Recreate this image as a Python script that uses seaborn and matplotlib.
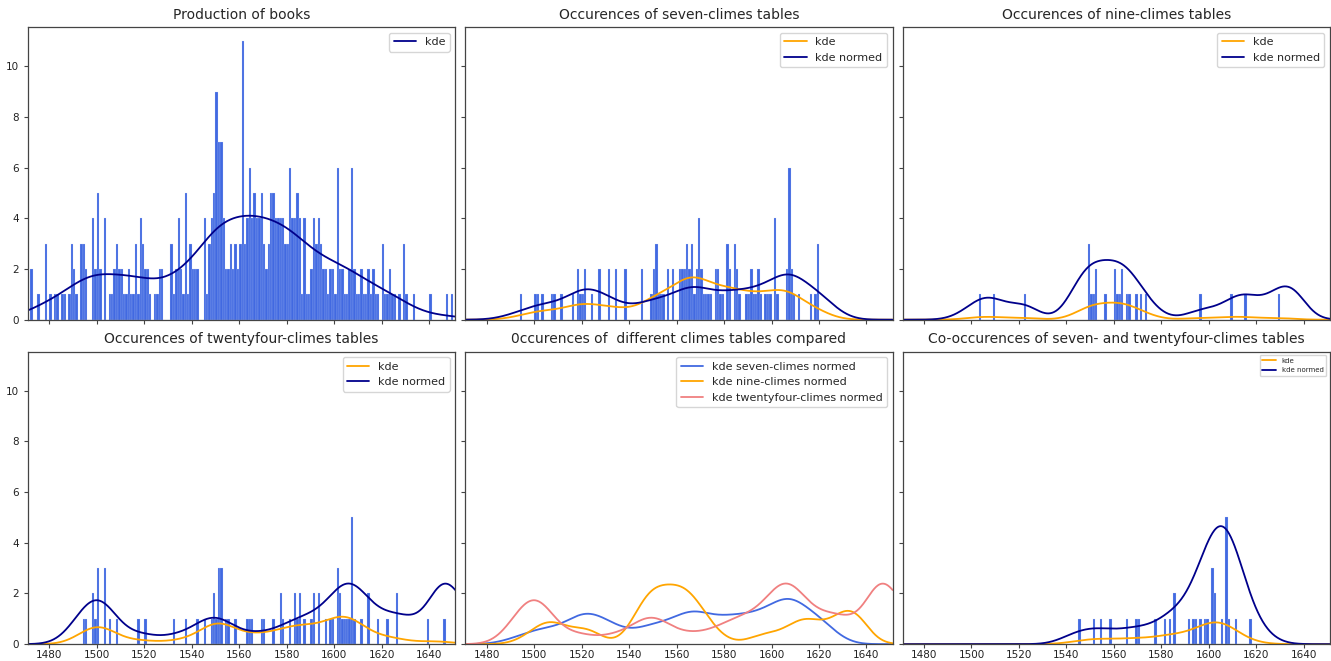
import numpy as np
import pandas as pd
import matplotlib
matplotlib.use("Agg")
import matplotlib.pyplot as plt
import seaborn as sns

# ---- data: printed books per year -------------------------------------------
book_years = [1472, 1475, 1478, 1480, 1482, 1483, 1485, 1486, 1488, 1489, 1490, 1491,
              1493, 1494, 1495, 1498, 1499, 1500, 1501, 1503, 1505, 1506, 1507, 1508,
              1509, 1510, 1511, 1512, 1513, 1514, 1515, 1516, 1517, 1518, 1519, 1520,
              1521, 1522, 1524, 1525, 1526, 1527, 1531, 1532, 1533, 1534, 1535, 1536,
              1537, 1538, 1539, 1540, 1541, 1542, 1545, 1546, 1547, 1548, 1549, 1550,
              1551, 1552, 1553, 1554, 1555, 1556, 1557, 1558, 1559, 1560, 1561, 1562,
              1563, 1564, 1565, 1566, 1567, 1568, 1569, 1570, 1571, 1572, 1573, 1574,
              1575, 1576, 1577, 1578, 1579, 1580, 1581, 1582, 1583, 1584, 1585, 1586,
              1587, 1588, 1589, 1590, 1591, 1592, 1593, 1594, 1595, 1596, 1597, 1598,
              1599, 1600, 1601, 1602, 1603, 1604, 1605, 1606, 1607, 1608, 1609, 1610,
              1611, 1612, 1613, 1614, 1615, 1616, 1617, 1618, 1620, 1621, 1622, 1623,
              1624, 1625, 1627, 1629, 1630, 1633, 1640, 1647, 1649]
book_counts = [2, 1, 3, 1, 1, 1, 1, 1, 1, 3, 2, 1,
               3, 3, 2, 4, 2, 5, 2, 4, 1, 1, 2, 3,
               2, 2, 1, 1, 2, 1, 1, 3, 1, 4, 3, 2,
               2, 1, 1, 1, 2, 2, 3, 1, 2, 4, 2, 1,
               5, 1, 3, 2, 2, 2, 4, 1, 3, 4, 5, 9,
               7, 7, 4, 2, 2, 3, 2, 3, 2, 3, 11, 3,
               4, 6, 4, 5, 4, 4, 5, 3, 2, 3, 5, 5,
               4, 4, 4, 4, 3, 3, 6, 4, 4, 5, 4, 1,
               4, 1, 1, 2, 4, 3, 4, 3, 2, 2, 1, 2,
               2, 1, 6, 2, 2, 1, 1, 2, 6, 2, 1, 1,
               2, 1, 1, 2, 1, 2, 1, 1, 3, 1, 1, 2,
               1, 1, 1, 3, 1, 1, 1, 1, 1]

# ---- occurrences of seven-climes tables --------------------------------------
seven_years = [1494, 1500, 1501, 1503, 1507, 1508, 1511, 1516, 1518, 1519, 1520, 1521,
               1524, 1527, 1531, 1534, 1538, 1545, 1549, 1550, 1551, 1552, 1553, 1554,
               1556, 1558, 1561, 1562, 1563, 1564, 1565, 1566, 1567, 1568, 1569, 1570,
               1571, 1572, 1573, 1574, 1576, 1577, 1578, 1579, 1581, 1582, 1584, 1585,
               1586, 1589, 1590, 1591, 1592, 1593, 1594, 1595, 1597, 1598, 1599, 1601,
               1602, 1606, 1607, 1608, 1609, 1611, 1616, 1618, 1619]
seven_counts = [1, 1, 1, 1, 1, 1, 1, 1, 2, 1, 1, 2,
                1, 2, 2, 2, 2, 2, 1, 2, 3, 1, 1, 1,
                2, 2, 2, 2, 2, 3, 2, 3, 1, 2, 4, 2,
                1, 1, 1, 1, 2, 2, 1, 1, 3, 2, 3, 2,
                1, 1, 1, 2, 1, 1, 2, 1, 1, 1, 1, 4,
                1, 2, 6, 2, 1, 1, 1, 1, 3]

# ---- occurrences of nine-climes tables ---------------------------------------
nine_years = [1503, 1509, 1522, 1549, 1550, 1551, 1552, 1556, 1560, 1561, 1562, 1563,
              1565, 1566, 1569, 1571, 1573, 1596, 1609, 1615, 1629]
nine_counts = [1, 1, 1, 3, 1, 1, 2, 1, 2, 1, 1, 2,
               1, 1, 1, 1, 1, 1, 1, 1, 1]

# ---- occurrences of twentyfour-climes tables ---------------------------------
twfour_years = [1494, 1495, 1498, 1499, 1500, 1503, 1505, 1508, 1517, 1520, 1532, 1537,
                1542, 1545, 1548, 1549, 1550, 1551, 1552, 1554, 1555, 1558, 1563, 1564,
                1565, 1569, 1570, 1574, 1577, 1578, 1581, 1583, 1584, 1585, 1587, 1590,
                1591, 1593, 1596, 1598, 1599, 1601, 1602, 1603, 1604, 1605, 1606, 1607,
                1608, 1611, 1614, 1618, 1622, 1626, 1639, 1646]
twfour_counts = [1, 1, 2, 1, 3, 3, 1, 1, 1, 1, 1, 1,
                 1, 1, 1, 2, 1, 3, 3, 1, 1, 1, 1, 1,
                 1, 1, 1, 1, 2, 1, 1, 2, 1, 2, 1, 1,
                 2, 2, 1, 1, 1, 3, 2, 1, 1, 1, 1, 5,
                 1, 1, 2, 1, 1, 2, 1, 1]

# ---- co-occurrences of seven- and twentyfour-climes tables -------------------
co_years = [1545, 1551, 1554, 1558, 1565, 1569, 1570, 1577, 1581, 1583, 1585, 1591,
            1593, 1594, 1596, 1598, 1599, 1601, 1602, 1605, 1607, 1608, 1611, 1617]
co_counts = [1, 1, 1, 1, 1, 1, 1, 1, 1, 1, 2, 1,
             1, 1, 1, 1, 1, 3, 2, 1, 5, 1, 1, 1]

X_MIN, X_MAX = 1471, 1651
grid = np.linspace(X_MIN, X_MAX, 700)
BOOK_BW = 8.5   # kernel width (years) for the book production
OCC_BW = 6.8    # kernel width (years) for table occurrences


def density(years, counts, bw):
    """Gaussian kernel density of the yearly events (integrates to 1)."""
    x = np.repeat(np.asarray(years, float), counts)
    z = (grid[:, None] - x[None, :]) / bw
    return np.exp(-0.5 * z ** 2).sum(axis=1) / (len(x) * bw * np.sqrt(2 * np.pi)), len(x)


book_dens, book_n = density(book_years, book_counts, BOOK_BW)


def curves(years, counts):
    """Return the count-scaled kde and the kde normed by book production."""
    dens, n = density(years, counts, OCC_BW)
    return dens * n, dens / book_dens


sns.set_style("ticks")
plt.rcParams.update({
    "font.family": ["DejaVu Sans"],
    "axes.edgecolor": "#444444",
    "axes.linewidth": 0.9,
    "xtick.color": "#444444",
    "ytick.color": "#444444",
    "xtick.labelcolor": "#222222",
    "ytick.labelcolor": "#222222",
    "xtick.labelsize": 7.5,
    "ytick.labelsize": 7.5,
    "xtick.major.size": 3,
    "ytick.major.size": 3,
    "xtick.major.pad": 1.5,
})

fig, axes = plt.subplots(2, 3, figsize=(13.31, 6.61), dpi=100, sharex=True, sharey=True)
fig.subplots_adjust(left=0.021, right=0.9992, top=0.959, bottom=0.0255,
                    wspace=0.0235, hspace=0.109)

BAR = "royalblue"
NAVY = "darkblue"
ORANGE = "orange"
CORAL = "lightcoral"
LW = 1.3


def bars(ax, years, counts):
    df = pd.DataFrame({"year": years, "n": counts})
    sns.histplot(data=df, x="year", weights="n", binwidth=1, binrange=(X_MIN, X_MAX),
                 color=BAR, alpha=1.0, edgecolor="#c8d4f7", linewidth=0.15, ax=ax)


# Production of books
ax = axes[0, 0]
bars(ax, book_years, book_counts)
sns.lineplot(x=grid, y=book_dens * book_n, color=NAVY, lw=LW, label="kde", ax=ax)
ax.set_title("Production of books", fontsize=10)

panels = [
    (axes[0, 1], seven_years, seven_counts, "Occurences of seven-climes tables"),
    (axes[0, 2], nine_years, nine_counts, "Occurences of nine-climes tables"),
    (axes[1, 0], twfour_years, twfour_counts, "Occurences of twentyfour-climes tables"),
    (axes[1, 2], co_years, co_counts, "Co-occurences of seven- and twentyfour-climes tables"),
]
normed = {}
for ax, yrs, cts, title in panels:
    bars(ax, yrs, cts)
    kde, kde_normed = curves(yrs, cts)
    normed[title] = kde_normed
    sns.lineplot(x=grid, y=kde, color=ORANGE, lw=LW, label="kde", ax=ax)
    sns.lineplot(x=grid, y=kde_normed, color=NAVY, lw=LW, label="kde normed", ax=ax)
    ax.set_title(title, fontsize=10)

# Comparison of the normed curves
ax = axes[1, 1]
sns.lineplot(x=grid, y=normed["Occurences of seven-climes tables"], color=BAR, lw=LW,
             label="kde seven-climes normed", ax=ax)
sns.lineplot(x=grid, y=normed["Occurences of nine-climes tables"], color=ORANGE, lw=LW,
             label="kde nine-climes normed", ax=ax)
sns.lineplot(x=grid, y=normed["Occurences of twentyfour-climes tables"], color=CORAL, lw=LW,
             label="kde twentyfour-climes normed", ax=ax)
ax.set_title("0ccurences of  different climes tables compared", fontsize=10)

for ax in axes.flat:
    ax.set_xlim(X_MIN, X_MAX)
    ax.set_ylim(0, 11.55)
    ax.set_xticks(range(1480, 1641, 20))
    ax.set_yticks(range(0, 11, 2))
    ax.set_xlabel("")
    ax.set_ylabel("")
    for s in ax.spines.values():
        s.set_visible(True)
    leg_size = 5 if ax is axes[1, 2] else 8
    ax.legend(loc="upper right", fontsize=leg_size, frameon=True, fancybox=True,
              framealpha=0.8, edgecolor="#cccccc")

fig.savefig("out.png", dpi=100)
